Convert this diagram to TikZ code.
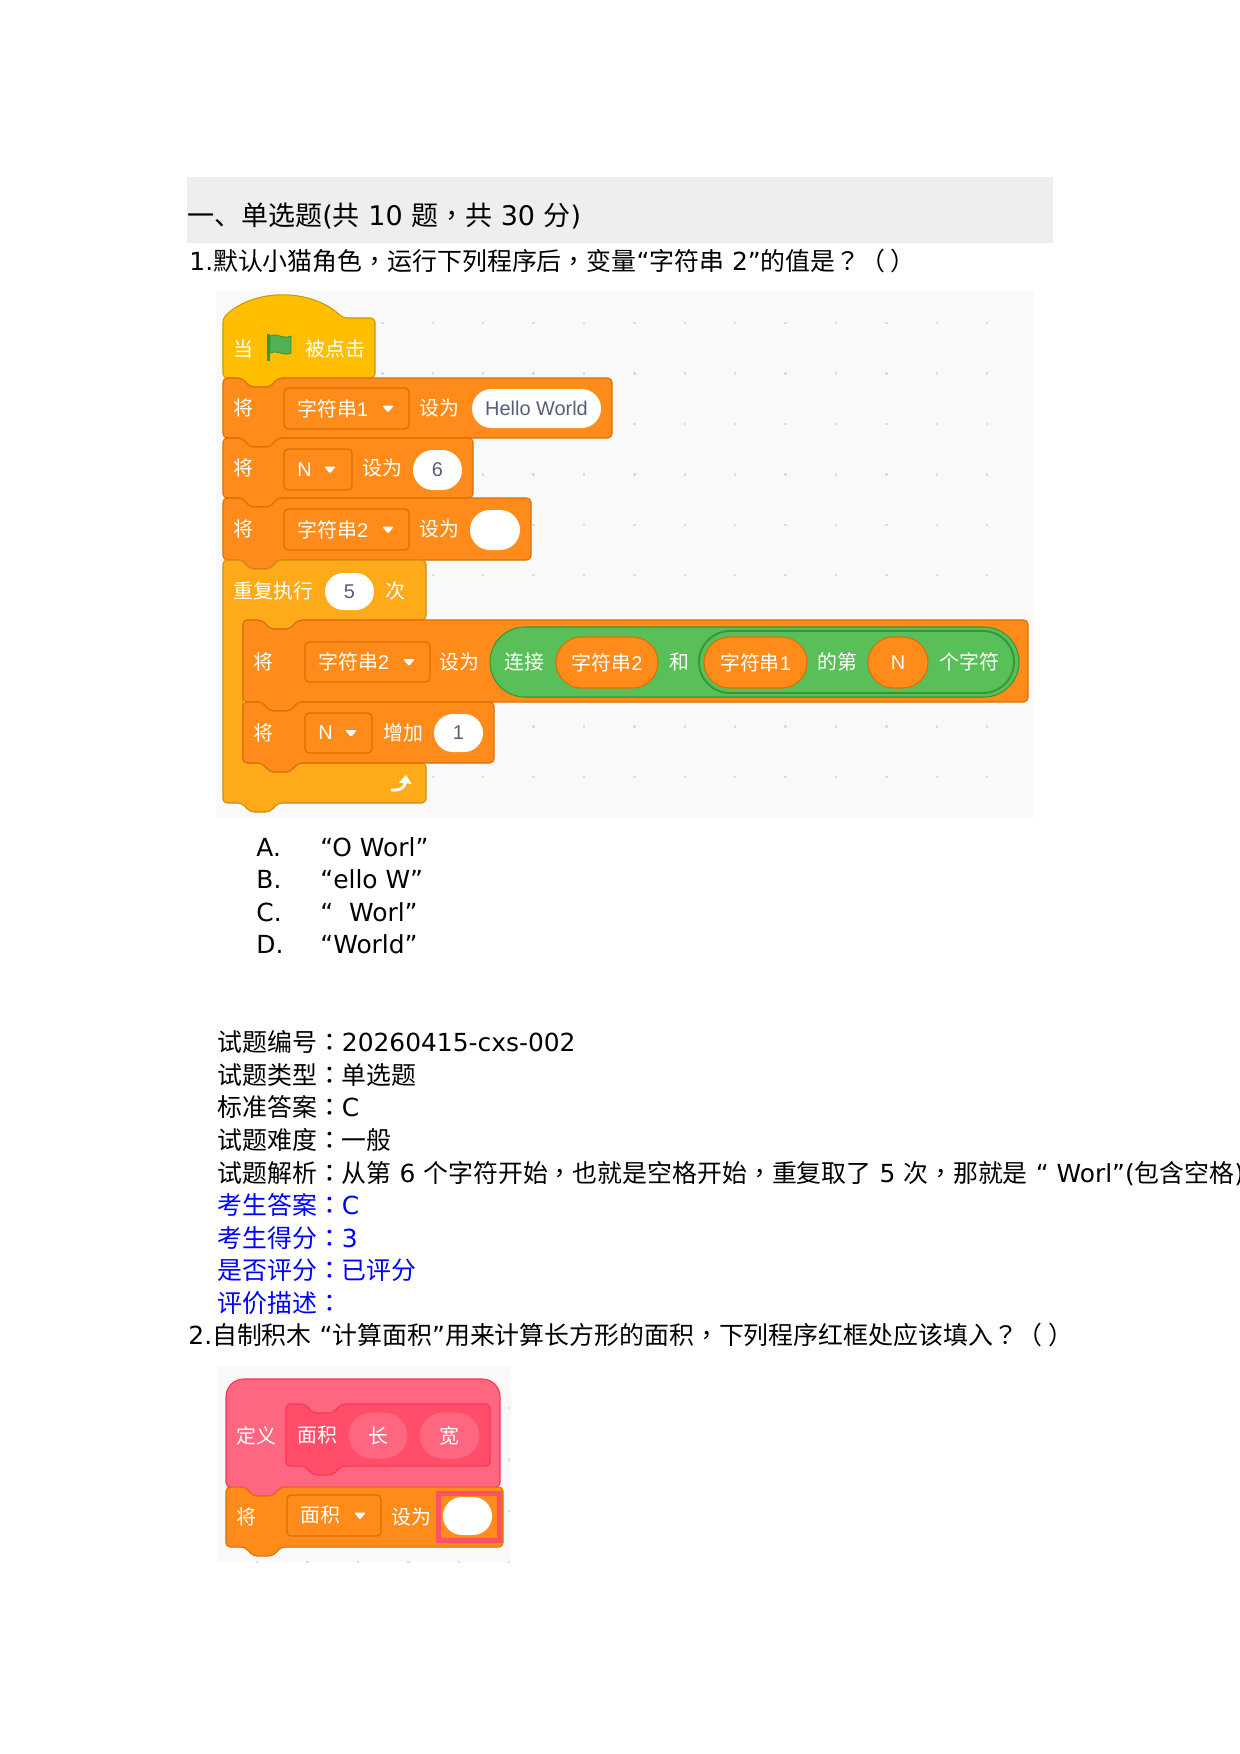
\documentclass[tikz,border=0pt]{standalone}
\usepackage{fontspec}
\setmainfont{DejaVu Sans}
\newfontfamily\zh{Noto Sans CJK SC}
\newfontfamily\zhp{Noto Sans CJK TC}
\newfontfamily\blkfont{Liberation Sans}
\usetikzlibrary{shapes.misc,arrows.meta}
\definecolor{evt}{HTML}{FFBF00}
\definecolor{evtline}{HTML}{CC9900}
\definecolor{var}{HTML}{FF8C1A}
\definecolor{varline}{HTML}{DB6E00}
\definecolor{ctl}{HTML}{FFAB19}
\definecolor{ctlline}{HTML}{CF8B17}
\definecolor{op}{HTML}{59C059}
\definecolor{opline}{HTML}{389438}
\definecolor{myb}{HTML}{FF6680}
\definecolor{mybdark}{HTML}{FF4D6A}
\definecolor{mybline}{HTML}{FF3355}
\definecolor{numtext}{HTML}{575E75}
\definecolor{canvas}{HTML}{F9F9F9}
\definecolor{dotc}{HTML}{DDDDDD}
\definecolor{hdrbg}{HTML}{EEEEEE}
\definecolor{ansblue}{HTML}{0000FF}
\definecolor{redframe}{HTML}{FF5066}
\newcommand\px{0.16935mm}
% centred punctuation
\newcommand\cm{{\zhp ，}}
\newcommand\cl{{\zhp ：}}
\newcommand\qm{{\zhp ？}}
% stack block: style, left, top, right, bottom
\newcommand\stackblk[5]{%
  \path[#1] (#2,#3) -- ({#2+19},#3) -- ({#2+27},{#3+9}) -- ({#2+47},{#3+9})
    -- ({#2+55},#3) -- (#4,#3) -- (#4,#5) -- ({#2+55},#5) -- ({#2+47},{#5+9})
    -- ({#2+27},{#5+9}) -- ({#2+19},#5) -- (#2,#5) -- cycle;}
% dropdown arrow
\newcommand\ddtri[2]{%
  \fill[white,rounded corners=0.6pt] ({#1-6},{#2-3}) -- ({#1+6},{#2-3}) -- (#1,{#2+4}) -- cycle;}
\tikzset{
    txt/.style={
    anchor=base west,inner sep=0pt,font=\fontsize{12}{14}\selectfont
    },
    hdr/.style={
    anchor=base west,inner sep=0pt,font=\fontsize{13}{15}\selectfont
    },
    hatb/.style={
    fill=evt,draw=evtline,line width=0.5pt,rounded corners=2pt
    },
    varb/.style={
    fill=var,draw=varline,line width=0.5pt,rounded corners=2pt
    },
    ctrlb/.style={
    fill=ctl,draw=ctlline,line width=0.5pt,rounded corners=2pt
    },
    defb/.style={
    fill=myb,draw=mybline,line width=0.5pt
    },
    protob/.style={
    fill=mybdark,draw=mybline,line width=0.5pt,rounded corners=2pt
    },
    dropbox/.style={
    fill=var,draw=varline,line width=0.6pt,rounded corners=2pt
    },
    btext/.style={
    anchor=west,inner sep=0pt,text=white,font=\blkfont\fontsize{9.6}{10}\selectfont
    },
    numin/.style={
    rounded rectangle,fill=white,inner sep=0pt,text=numtext,font=\blkfont\fontsize{9.6}{10}\selectfont
    },
    varpill/.style={
    rounded rectangle,fill=var,draw=varline,line width=0.5pt,inner sep=0pt,text=white,font=\blkfont\fontsize{9.6}{10}\selectfont
    },
    oppill/.style={
    rounded rectangle,fill=op,draw=opline,line width=0.5pt,inner sep=0pt
    },
    argpill/.style={
    rounded rectangle,fill=myb,draw=mybdark,line width=0.5pt,inner sep=0pt,text=white,font=\zh\fontsize{9.6}{10}\selectfont
    },
}
\begin{document}
\begin{tikzpicture}[x=\px,y=-\px]
  \useasboundingbox (0,0) rectangle (1240,1754);
  \fill[white] (0,0) rectangle (1240,1754);

  % heading and question 1
  \fill[hdrbg] (187,177) rectangle (1053,243);
  \node[hdr] (title) at (187,225) {{\zh 一、单选题}({\zh 共} 10 {\zh 题}\cm{\zh 共} 30 {\zh 分})};
  \node[txt] (q1) at (189,270) {1.{\zh 默认小猫角色}\cm{\zh 运行下列程序后}\cm{\zh 变量}“{\zh 字符串} 2”{\zh 的值是}\qm{\zh （ ）}};

  % canvas 1
  \fill[canvas] (216,291) rectangle (1034,817);
  \foreach \i in {0,...,15}
    \foreach \j in {0,...,9}
      \fill[dotc] ({230+50.4*\i},{322+50.4*\j}) rectangle ++(2.4,2.4);

  % when flag clicked
  \path[hatb] (223,318) .. controls (254,288) and (311,288) .. (343,318) -- (375,318)
    -- (375,378) -- (278,378) -- (270,387) -- (250,387) -- (242,378) -- (223,378) -- cycle;
  \node[btext] (when) at (233,349) {\zh 当};
  \fill[opline] (267,334) rectangle (270,361);
  \path[fill=op!90!black!80!op,draw=opline,line width=0.4pt] (270,336) .. controls (276,332) and (283,340) .. (291,336)
    -- (291,353) .. controls (283,357) and (276,349) .. (270,353) -- cycle;
  \node[btext] (clicked) at (305,349) {\zh 被点击};

  % set string1
  \stackblk{varb}{223}{378}{612}{438}
  \node[btext] (set1) at (233,408) {\zh 将};
  \path[dropbox] (284,388) rectangle (409,429);
  \node[btext] (s1) at (297,408.5) {{\zh 字符串}1};
  \ddtri{388}{408.5}
  \node[btext] (to1) at (419,408) {\zh 设为};
  \node[numin,minimum width=129*\px,minimum height=39*\px] (hello) at (536.5,408.5) {Hello World};

  % set N
  \stackblk{varb}{223}{438}{473}{498}
  \node[btext] (set2) at (233,468) {\zh 将};
  \path[dropbox] (284,449) rectangle (352,490);
  \node[btext] (n1) at (297,469.5) {N};
  \ddtri{330}{469.5}
  \node[btext] (to2) at (362,468) {\zh 设为};
  \node[numin,minimum width=49*\px,minimum height=40*\px] (six) at (437.5,470) {6};

  % set string2
  \stackblk{varb}{223}{498}{531}{560}
  \node[btext] (set3) at (233,529) {\zh 将};
  \path[dropbox] (284,509) rectangle (409,550);
  \node[btext] (s2) at (297,529.5) {{\zh 字符串}2};
  \ddtri{388}{529.5}
  \node[btext] (to3) at (419,529) {\zh 设为};
  \node[numin,minimum width=50*\px,minimum height=40*\px] (empty) at (495,530) {};

  % repeat
  \path[ctrlb] (223,560) -- (242,560) -- (250,569) -- (270,569) -- (278,560) -- (426,560)
    -- (426,620) -- (298,620) -- (290,629) -- (270,629) -- (262,620) -- (243,620)
    -- (243,763) -- (262,763) -- (270,772) -- (290,772) -- (298,763) -- (426,763)
    -- (426,803) -- (278,803) -- (270,812) -- (250,812) -- (242,803) -- (223,803) -- cycle;
  \node[btext] (rep) at (233,591) {\zh 重复执行};
  \node[numin,minimum width=49*\px,minimum height=37*\px] (five) at (349.5,591.5) {5};
  \node[btext] (times) at (385,591) {\zh 次};
  \draw[white,line width=1.4pt,-{Triangle[length=4pt,width=6pt]}] (391,790) .. controls (402,791) and (405,786) .. (406,775);

  % set string2 to join
  \stackblk{varb}{243}{620}{1028}{702}
  \node[btext] (set4) at (253,662) {\zh 将};
  \path[dropbox] (305,642) rectangle (430,682);
  \node[btext] (s3) at (318,662) {{\zh 字符串}2};
  \ddtri{409}{662}
  \node[btext] (to4) at (439,662) {\zh 设为};
  \node[oppill,minimum width=529*\px,minimum height=70*\px] (join) at (754.5,662) {};
  \node[btext] (jointxt) at (504,662) {\zh 连接};
  \node[varpill,minimum width=102*\px,minimum height=51*\px] (r2) at (607,662.5) {{\zh 字符串}2};
  \node[btext] (and) at (669,662) {\zh 和};
  \node[oppill,line width=0.9pt,minimum width=315*\px,minimum height=62*\px] (letter) at (856.5,662) {};
  \node[varpill,minimum width=103*\px,minimum height=51*\px] (r1) at (755.5,662.5) {{\zh 字符串}1};
  \node[btext] (of) at (817,662) {\zh 的第};
  \node[varpill,minimum width=60*\px,minimum height=51*\px] (rn) at (898,662.5) {N};
  \node[btext] (chr) at (939,662) {\zh 个字符};

  % change N by 1
  \stackblk{varb}{243}{702}{494}{763}
  \node[btext] (set5) at (253,733) {\zh 将};
  \path[dropbox] (305,713) rectangle (372,753);
  \node[btext] (n2) at (318,733) {N};
  \ddtri{351}{733}
  \node[btext] (inc) at (383,733) {\zh 增加};
  \node[numin,minimum width=49*\px,minimum height=38*\px] (one) at (458.5,733) {1};

  % options
  \node[txt] (la) at (256,856) {A.};
  \node[txt] (oa) at (320,856) {“O Worl”};
  \node[txt] (lb) at (256,888) {B.};
  \node[txt] (ob) at (320,888) {“ello W”};
  \node[txt] (lc) at (256,921) {C.};
  \node[txt] (oc) at (320,921) {“\ \ Worl”};
  \node[txt] (ld) at (256,953) {D.};
  \node[txt] (od) at (320,953) {“World”};

  % answer info
  \node[txt] (i1) at (217,1051) {{\zh 试题编号}\cl 20260415-cxs-002};
  \node[txt] (i2) at (217,1084) {{\zh 试题类型}\cl{\zh 单选题}};
  \node[txt] (i3) at (217,1116) {{\zh 标准答案}\cl C};
  \node[txt] (i4) at (217,1149) {{\zh 试题难度}\cl{\zh 一般}};
  \node[txt] (i5) at (217,1182) {{\zh 试题解析}\cl{\zh 从第} 6 {\zh 个字符开始}\cm{\zh 也就是空格开始}\cm{\zh 重复取了} 5 {\zh 次}\cm{\zh 那就是} “ Worl”({\zh 包含空格})};
  \node[txt,text=ansblue] (i6) at (217,1214) {{\zh 考生答案}\cl C};
  \node[txt,text=ansblue] (i7) at (217,1247) {{\zh 考生得分}\cl 3};
  \node[txt,text=ansblue] (i8) at (217,1279) {{\zh 是否评分}\cl{\zh 已评分}};
  \node[txt,text=ansblue] (i9) at (217,1312) {{\zh 评价描述}\cl};

  % question 2
  \node[txt] (q2) at (188,1344) {2.{\zh 自制积木} “{\zh 计算面积}”{\zh 用来计算长方形的面积}\cm{\zh 下列程序红框处应该填入}\qm{\zh （ ）}};

  % canvas 2
  \fill[canvas] (217,1366) rectangle (511,1562);
  \foreach \i in {0,...,5}
    \foreach \j in {0,...,3}
      \fill[dotc] ({256+50.4*\i},{1407+51.3*\j}) rectangle ++(2.4,2.4);

  % define block
  \path[defb,rounded corners=2pt] (226,1440) [rounded corners=8.5pt] -- (226,1379) -- (500,1379)
    -- (500,1440) [rounded corners=2pt] -- (500,1487) -- (281,1487) -- (273,1496) -- (253,1496)
    -- (245,1487) -- (226,1487) -- cycle;
  \node[btext] (def) at (236,1436) {\zh 定义};
  \stackblk{protob}{286}{1404}{490}{1466}
  \node[btext] (area) at (297,1435) {\zh 面积};
  \node[argpill,minimum width=60*\px,minimum height=47*\px] (len) at (378,1435.5) {长};
  \node[argpill,minimum width=61*\px,minimum height=47*\px] (wid) at (449.5,1435.5) {宽};

  % set area to
  \stackblk{varb}{226}{1487}{503}{1547}
  \node[btext] (set6) at (236,1517) {\zh 将};
  \path[dropbox] (287,1495) rectangle (381,1536);
  \node[btext] (a2) at (300,1515.5) {\zh 面积};
  \ddtri{360}{1515.5}
  \node[btext] (to6) at (391,1517) {\zh 设为};
  \draw[redframe,line width=2.4pt] (438.5,1493.5) rectangle (499.5,1540.5);
  \node[numin,minimum width=49*\px,minimum height=38*\px] (blank) at (467.5,1516) {};
\end{tikzpicture}
\end{document}
